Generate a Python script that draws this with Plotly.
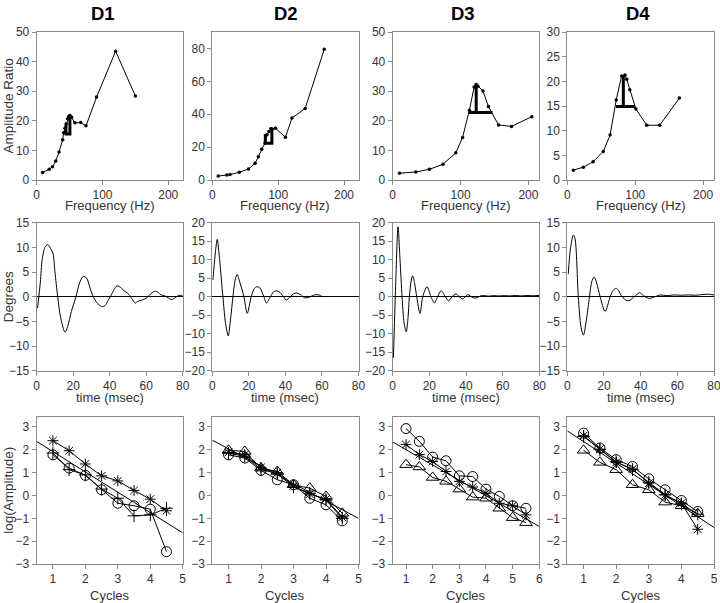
import plotly.graph_objects as go

# ---------------- data ----------------
col_titles = ["D1", "D2", "D3", "D4"]

# Top row: amplitude ratio vs frequency
freq1 = [9, 19, 24, 29, 34, 39.5, 41, 43, 45, 47, 49, 50.5, 53, 58, 67, 75, 91, 120, 150]
amp1 = [2.5, 3.6, 4.5, 6.4, 9.5, 13.6, 16, 17.5, 19, 20.7, 21.5, 21.8, 21.2, 19.3, 19.4, 18.3, 28.0, 43.5, 28.4]
freq2 = [9, 22, 27, 41, 55, 65, 70, 75, 80, 83, 86, 89, 91, 96, 111, 121, 141, 170]
amp2 = [2.4, 3.0, 3.3, 4.7, 6.7, 10.2, 14.2, 18.7, 22.5, 27.5, 29.5, 31.3, 31.0, 31.5, 26.0, 37.7, 43.5, 79.5]
freq3 = [10, 34, 54, 74, 93, 103, 113, 120, 123, 125.5, 133, 141, 156, 175, 205]
amp3 = [2.3, 2.7, 3.6, 5.3, 9.2, 14.4, 23.6, 31.4, 32.3, 31.7, 30.1, 24.8, 18.6, 18.1, 21.4]
freq4 = [9, 23.5, 38, 53, 63, 72, 80, 85, 87.5, 92, 101, 117, 136, 165]
amp4 = [2.0, 2.6, 3.7, 5.8, 9.1, 16.2, 21.1, 21.3, 20.4, 18.3, 14.4, 11.1, 11.1, 16.6]

# thick bandwidth markers
bw1_x = [44.5, 44.5, 50.5, 50.5]
bw1_y = [19.0, 15.5, 15.5, 21.8]
bw2_x = [80.5, 80.5, 90.5, 90.5]
bw2_y = [28.0, 22.4, 22.4, 31.0]
bw3_x = [123, 123, None, 111.5, 147]
bw3_y = [32.2, 22.8, None, 22.8, 22.8]
bw4_x = [82.5, 82.5, None, 71.6, 99.5]
bw4_y = [21.2, 14.9, None, 14.9, 14.9]

# Middle row: degrees vs time
t1 = [0.5, 2, 3, 4.5, 6, 8, 9, 10, 11.5, 13, 15.5, 17, 19, 21.5, 23.5, 25.5, 27.5, 29, 31, 33, 35.5,
      37.5, 39, 40.5, 42.5, 44, 46, 47.5, 49.5, 51, 52.5, 54, 55.5, 57.5, 60, 62, 64.5, 66.5, 68, 70,
      72, 74, 75.5, 77, 79, 80]
deg1 = [-2.3, 3.0, 7.5, 10.0, 10.6, 9.5, 8.7, 5.0, 0.0, -4.0, -7.2, -6.0, -3.0, 0.0, 2.8, 4.1, 3.7,
        2.0, 0.0, -1.2, -2.0, -1.8, -0.8, 0.1, 1.5, 2.2, 1.9, 1.3, 0.8, 0.2, -0.6, -1.3, -0.9, -0.7,
        -0.3, 0.4, 1.1, 0.9, 0.4, 0.2, -0.2, -0.6, -0.3, 0.1, 0.3, 0.2]
t2 = [0.3, 1.5, 2.7, 4, 5.8, 7.2, 8.7, 10, 11.3, 12.5, 13.6, 15, 17.3, 19.1, 21.3, 23, 24.5, 26, 28.2,
      29.6, 31.8, 33.5, 35, 36.5, 39, 40.5, 42.7, 44.5, 46, 48.2, 50.5, 52.7, 54.5, 56.4, 58.2, 60, 60.8]
deg2 = [4.5, 11.0, 15.5, 10.0, 0.0, -7.0, -10.6, -6.0, 0.0, 4.5, 6.0, 4.0, 0.0, -4.5, 0.0, 2.2, 2.7,
        2.4, 0.0, -1.7, 0.0, 1.3, 1.6, 1.4, 0.0, -0.9, 0.0, 0.8, 1.0, 0.6, -0.3, -0.2, 0.2, 0.55, 0.5,
        0.1, 0.0]
t3 = [0.4, 1.6, 2.9, 4.0, 5.1, 6.2, 7.4, 8.3, 9.1, 10.0, 10.9, 12, 13.1, 14.9, 16.4, 18.7, 20.9, 22.7,
      24.5, 26.4, 28.7, 30.5, 32.4, 34.5, 36.4, 38.2, 40.9, 43.6, 45.5, 48.2, 50, 52, 55, 58, 61, 64,
      67, 70, 73, 76, 80]
deg3 = [-16.5, 3.0, 18.9, 10.0, 0.0, -7.0, -9.5, -6.0, 0.0, 4.0, 5.7, 3.5, 0.0, -4.5, 0.0, 2.7, 0.0,
        -1.7, 0.0, 1.6, 0.0, -1.1, 0.0, 0.75, 0.0, -0.6, 0.55, -0.2, -0.35, 0.25, 0.3, 0.15, 0.3, 0.2,
        0.3, 0.2, 0.35, 0.2, 0.35, 0.25, 0.35]
t4 = [0.5, 1.8, 3.3, 4.2, 6, 7.4, 8.8, 10.5, 12.1, 13.3, 14.6, 16, 17.9, 20.6, 23.4, 25, 26.7, 28,
      29.8, 32.5, 34.3, 36.5, 39.5, 41.6, 44.4, 47.1, 50.8, 54.4, 58, 62, 66, 70, 74, 77, 80]
deg4 = [4.6, 10.0, 12.5, 11.8, 0.0, -6.0, -7.8, -4.5, 0.0, 3.0, 4.0, 2.8, 0.0, -3.0, 0.0, 1.3, 1.7,
        1.2, 0.0, -0.8, -0.7, 0.0, 0.8, 0.2, -0.35, -0.1, 0.35, 0.2, 0.35, 0.3, 0.35, 0.3, 0.45, 0.5,
        0.35]

# Bottom row: log(amplitude) vs cycles
cyc_a = [1, 1.5, 2, 2.5, 3, 3.5, 4, 4.5]
cyc_b = [1, 1.5, 2, 2.5, 3, 3.5, 4, 4.5, 5, 5.5]

d1_star = [2.40, 1.96, 1.38, 0.86, 0.64, 0.22, -0.16, -0.67]
d1_circ = [1.78, 1.20, 0.88, 0.25, -0.34, -0.45, -0.60, -2.46]
d1_plus = [1.86, 1.13, 0.90, 0.28, -0.12, -0.89, -0.85, -0.56]
d1_fit = (2.81, -0.889)

d2_circ = [1.78, 1.64, 1.10, 0.69, 0.47, -0.12, -0.41, -1.11]
d2_tri = [1.98, 1.93, 1.20, 1.05, 0.47, 0.32, -0.04, -0.78]
d2_star = [1.89, 1.79, 1.23, 1.00, 0.42, 0.06, -0.15, -0.95]
d2_plus = [1.85, 1.72, 1.15, 0.95, 0.38, 0.10, -0.20, -1.00]
d2_fit = (2.80, -0.76)

d3_circ = [2.93, 2.37, 1.68, 1.52, 0.86, 0.83, 0.28, -0.04, -0.45, -0.56]
d3_star = [2.23, 1.79, 1.49, 1.05, 0.62, 0.37, 0.10, -0.34, -0.45, -0.85]
d3_tri = [1.35, 1.25, 0.79, 0.62, 0.28, -0.07, -0.12, -0.56, -0.97, -1.19]
d3_fit = (2.68, -0.673)

d4_circ = [2.73, 2.08, 1.57, 1.27, 0.73, 0.25, -0.22, -0.70]
d4_star = [2.62, 2.03, 1.45, 1.16, 0.54, 0.03, -0.34, -1.48]
d4_tri = [1.98, 1.45, 1.13, 0.47, 0.25, -0.29, -0.45, -0.80]
d4_plus = [2.58, 2.01, 1.48, 1.13, 0.58, 0.03, -0.37, -0.82]
d4_fit = (3.30, -0.94)

# ---------------- layout helpers ----------------
W, H = 720, 603
col_px = [(36.7, 182.7), (212.3, 358.5), (392.7, 539.3), (567.3, 714.0)]
row_px = [(32.0, 180.0), (222.7, 370.7), (416.7, 564.0)]
title_px = [103.5, 286, 462.5, 637.5]

FONT = "Liberation Sans, Arial, Helvetica, sans-serif"
TXT = "#333333"
FRAME = "#8a8a8a"

fig = go.Figure()
layout = dict(width=W, height=H, margin=dict(l=0, r=0, t=0, b=0, autoexpand=False),
              paper_bgcolor="white", plot_bgcolor="white", showlegend=False,
              font=dict(family=FONT, color=TXT, size=12))

x_ranges = [[[0, 222], [0, 222], [0, 216], [0, 216]],
            [[0, 80], [0, 80], [0, 80], [0, 80]],
            [[0.5, 5], [0.5, 5], [0.5, 6], [0.5, 5]]]
x_ticks = [[0, 100, 200], [0, 20, 40, 60, 80], None]
y_ranges = [[[0, 50], [0, 90], [0, 50], [0, 30]],
            [[-15, 15], [-20, 20], [-20, 20], [-15, 15]],
            [[-3, 3.45], [-3, 3.45], [-3, 3.45], [-3, 3.45]]]
y_dtick = [[10, 20, 10, 5], [5, 5, 5, 5], [1, 1, 1, 1]]
TICKF = dict(size=12, color=TXT, family=FONT)


def axis_id(r, c):
    return r * 4 + c + 1


for r in range(3):
    for c in range(4):
        n = axis_id(r, c)
        xs = "" if n == 1 else str(n)
        x0, x1 = col_px[c]
        y0, y1 = row_px[r]
        xa = dict(domain=[x0 / W, x1 / W], range=x_ranges[r][c], anchor="y" + xs,
                  automargin=False, ticklabeloverflow="allow",
                  showline=True, mirror=True, linecolor=FRAME, linewidth=1,
                  ticks="outside", ticklen=4, tickcolor=FRAME, showgrid=False, zeroline=False,
                  tickfont=TICKF)
        if r == 2:
            xa["tickmode"] = "linear"
            xa["tick0"] = 1
            xa["dtick"] = 1
        else:
            xa["tickvals"] = x_ticks[r]
        ya = dict(domain=[1 - y1 / H, 1 - y0 / H], range=y_ranges[r][c], anchor="x" + xs,
                  automargin=False, ticklabeloverflow="allow",
                  showline=True, mirror=True, linecolor=FRAME, linewidth=1,
                  ticks="outside", ticklen=4, tickcolor=FRAME, showgrid=False,
                  tickmode="linear", tick0=0, dtick=y_dtick[r][c],
                  zeroline=(r == 1), zerolinecolor="black", zerolinewidth=1,
                  tickfont=TICKF)
        if r == 2:
            ya["tick0"] = -3
        layout["xaxis" + xs] = xa
        layout["yaxis" + xs] = ya


def ax(r, c):
    n = axis_id(r, c)
    s = "" if n == 1 else str(n)
    return dict(xaxis="x" + s, yaxis="y" + s)


# ---------------- top row ----------------
top = [(freq1, amp1, bw1_x, bw1_y), (freq2, amp2, bw2_x, bw2_y),
       (freq3, amp3, bw3_x, bw3_y), (freq4, amp4, bw4_x, bw4_y)]
for c, (fx, fy, bx, by) in enumerate(top):
    fig.add_trace(go.Scatter(x=fx, y=fy, mode="lines+markers",
                             line=dict(color="black", width=1),
                             marker=dict(color="black", size=3.5), **ax(0, c)))
    fig.add_trace(go.Scatter(x=bx, y=by, mode="lines", line=dict(color="black", width=3),
                             connectgaps=False, **ax(0, c)))

# ---------------- middle row ----------------
mid = [(t1, deg1), (t2, deg2), (t3, deg3), (t4, deg4)]
for c, (tx, dy) in enumerate(mid):
    fig.add_trace(go.Scatter(x=tx, y=dy, mode="lines",
                             line=dict(color="black", width=1, shape="spline", smoothing=0.8),
                             **ax(1, c)))

# ---------------- bottom row ----------------
SYM = {"circ": ("circle-open", 10, 1), "tri": ("triangle-up-open", 11, 1),
       "star": ("asterisk-open", 9, 1), "plus": ("cross-thin-open", 9, 1)}

bottom = [
    (cyc_a, [("plus", d1_plus), ("circ", d1_circ), ("star", d1_star)], d1_fit),
    (cyc_a, [("plus", d2_plus), ("circ", d2_circ), ("tri", d2_tri), ("star", d2_star)], d2_fit),
    (cyc_b, [("circ", d3_circ), ("tri", d3_tri), ("star", d3_star)], d3_fit),
    (cyc_a, [("plus", d4_plus), ("circ", d4_circ), ("tri", d4_tri), ("star", d4_star)], d4_fit),
]
for c, (cx, series, fit) in enumerate(bottom):
    xr = x_ranges[2][c]
    a, b = fit
    fig.add_trace(go.Scatter(x=xr, y=[a + b * xr[0], a + b * xr[1]], mode="lines",
                             line=dict(color="black", width=1), **ax(2, c)))
    for kind, vals in series:
        sym, size, lw = SYM[kind]
        fig.add_trace(go.Scatter(x=cx, y=vals, mode="lines+markers",
                                 line=dict(color="black", width=1),
                                 marker=dict(symbol=sym, size=size, color="black",
                                             line=dict(color="black", width=lw)),
                                 **ax(2, c)))

# ---------------- annotations (titles) ----------------
ann = []
for c, t in enumerate(col_titles):
    x0, x1 = col_px[c]
    ann.append(dict(text="<b>%s</b>" % t, x=title_px[c] / W, y=1 - 13.7 / H,
                    xref="paper", yref="paper", showarrow=False,
                    xanchor="center", yanchor="middle",
                    font=dict(size=18.5, color="black", family=FONT)))
    cx = (x0 + x1) / 2 / W
    for lbl, ypx in [("Frequency (Hz)", 205.5), ("time (msec)", 397.5), ("Cycles", 595)]:
        ann.append(dict(text=lbl, x=cx, y=1 - ypx / H, xref="paper", yref="paper",
                        showarrow=False, xanchor="center", yanchor="middle",
                        font=dict(size=13, color=TXT, family=FONT)))
for lbl, r in [("Amplitude Ratio", 0), ("Degrees", 1), ("log(Amplitude)", 2)]:
    y0, y1 = row_px[r]
    ann.append(dict(text=lbl, x=8.5 / W, y=1 - (y0 + y1) / 2 / H, xref="paper", yref="paper",
                    showarrow=False, textangle=-90, xanchor="center", yanchor="middle",
                    font=dict(size=13.5, color=TXT, family=FONT)))
layout["annotations"] = ann

fig.update_layout(**layout)
fig.write_html("out.html", config={"displayModeBar": False},
               post_script="document.body.style.margin='0';document.body.style.overflow='hidden';")
